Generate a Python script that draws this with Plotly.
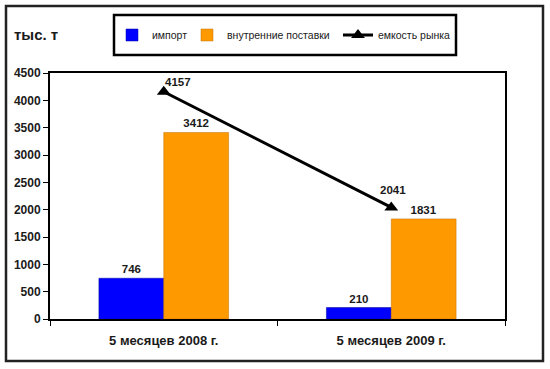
import plotly.graph_objects as go

categories = ["5 месяцев 2008 г.", "5 месяцев 2009 г."]
import_vals = [746, 210]
domestic_vals = [3412, 1831]
market_vals = [4157, 2041]
y_ticks = list(range(0, 5000, 500))

FONT = "Liberation Sans, Arial, sans-serif"
TXT = "#1a1a1a"
LBL = 11.5

fig = go.Figure()
fig.add_trace(go.Bar(
    x=categories, y=import_vals, name="импорт",
    marker=dict(color="#0000FF", line=dict(color="#0000A0", width=0.5)),
    text=[str(v) for v in import_vals], textposition="outside",
    textfont=dict(family=FONT, size=LBL, color=TXT, weight="bold"),
    cliponaxis=False, legendwidth=30,
))
fig.add_trace(go.Bar(
    x=categories, y=domestic_vals, name="внутренние поставки",
    marker=dict(color="#FF9900", line=dict(color="#C07000", width=0.5)),
    text=[str(v) for v in domestic_vals], textposition="outside",
    textfont=dict(family=FONT, size=LBL, color=TXT, weight="bold"),
    cliponaxis=False, legendwidth=106,
))
fig.add_trace(go.Scatter(
    x=categories, y=market_vals, name="емкость рынка",
    mode="lines+markers",
    line=dict(color="black", width=3),
    marker=dict(symbol="triangle-up", size=12, color="black"),
    cliponaxis=False,
))

L, R, T, B = 50, 45, 73, 50
W, H = 550, 369
pw, ph = W - L - R, H - T - B

def px(x):
    return (x - L) / pw

def py(y):
    return (H - B - y) / ph

line_label_pos = [dict(xanchor="left", xshift=-1, yshift=10),
                  dict(xanchor="center", xshift=2, yshift=17)]
annotations = []
for cat, val, pos in zip(categories, market_vals, line_label_pos):
    annotations.append(dict(
        x=cat, y=val, xref="x", yref="y", text=f"<b>{val}</b>",
        showarrow=False, yanchor="middle",
        font=dict(family=FONT, size=LBL, color=TXT), **pos,
    ))
annotations.append(dict(
    text="<b>тыс. т</b>", x=px(12), y=py(34), xref="paper", yref="paper",
    xanchor="left", yanchor="middle", showarrow=False,
    font=dict(family=FONT, size=15, color=TXT),
))

fig.update_layout(
    width=W, height=H,
    margin=dict(l=L, r=R, t=T, b=B, autoexpand=False),
    paper_bgcolor="white", plot_bgcolor="white",
    barmode="group", bargap=0.43, bargroupgap=0,
    font=dict(family=FONT, size=11, color=TXT),
    showlegend=True,
    legend=dict(
        orientation="h", x=px(112), y=py(35), xanchor="left", yanchor="middle",
        borderwidth=0, bgcolor="rgba(0,0,0,0)",
        font=dict(family=FONT, size=10.5, color=TXT),
        itemwidth=30,
    ),
    xaxis=dict(
        type="category", tickson="boundaries", ticks="outside", ticklen=5,
        tickcolor="black", showline=True, linecolor="black", linewidth=2,
        mirror=True, showgrid=False, ticklabelstandoff=8,
        tickfont=dict(family=FONT, size=13, color=TXT, weight="bold"),
    ),
    yaxis=dict(
        range=[0, 4500], tickvals=y_ticks, ticks="outside", ticklen=5,
        tickcolor="black", showline=True, linecolor="black", linewidth=2,
        mirror=True, showgrid=False, zeroline=False,
        tickfont=dict(family=FONT, size=12, color=TXT, weight="bold"),
    ),
    annotations=annotations,
    shapes=[
        dict(type="rect", xref="paper", yref="paper",
             x0=px(6), x1=px(543), y0=py(361), y1=py(6),
             line=dict(color="#222222", width=2.5), layer="below"),
        dict(type="rect", xref="paper", yref="paper",
             x0=px(114), x1=px(456), y0=py(55), y1=py(15),
             line=dict(color="black", width=2.5), fillcolor="white",
             layer="below"),
    ],
)

fig.write_html(
    "out.html",
    config=dict(displayModeBar=False),
    post_script="document.body.style.margin='0';document.body.style.overflow='hidden';",
)
